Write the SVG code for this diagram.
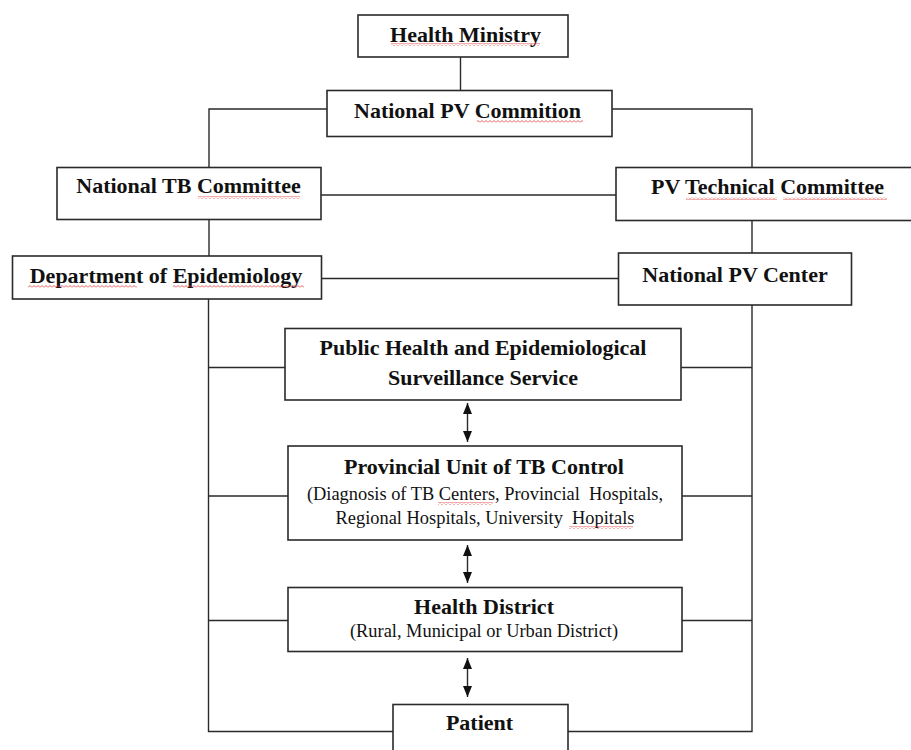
<svg xmlns="http://www.w3.org/2000/svg" width="911" height="750" viewBox="0 0 911 750">
<style>
  .box { fill: #ffffff; stroke: #2a2a2a; stroke-width: 1.6; }
  .ln { fill: none; stroke: #2a2a2a; stroke-width: 1.4; }
  .t { font-family: "Liberation Serif", "Times New Roman", serif; font-weight: bold; font-size: 22px; fill: #111111; text-anchor: middle; }
  .s { font-family: "Liberation Serif", "Times New Roman", serif; font-size: 18.4px; fill: #111111; text-anchor: middle; }
  .sq { fill: url(#squig); }
</style>
<defs>
  <pattern id="squig" patternUnits="userSpaceOnUse" width="4" height="3">
    <path d="M0 2.5 L2 0.5 L4 2.5" fill="none" stroke="#e03030" stroke-width="0.8"/>
  </pattern>
  <marker id="ah" viewBox="0 0 11 9" refX="11" refY="4.5" markerWidth="11" markerHeight="9" markerUnits="userSpaceOnUse" orient="auto-start-reverse">
    <path d="M0 0 L11 4.5 L0 9 Z" fill="#111111"/>
  </marker>
</defs>

<g id="connectors">
  <line class="ln" x1="460.5" y1="57" x2="460.5" y2="90"/>
  <polyline class="ln" points="327,109 209,109 209,167"/>
  <polyline class="ln" points="612,109 752,109 752,167"/>
  <line class="ln" x1="321" y1="195" x2="616" y2="195"/>
  <line class="ln" x1="209" y1="219" x2="209" y2="256"/>
  <line class="ln" x1="752" y1="221" x2="752" y2="253"/>
  <line class="ln" x1="322" y1="278.5" x2="618" y2="278.5"/>
  <polyline class="ln" points="208.5,299 208.5,731.5 393,731.5"/>
  <polyline class="ln" points="752,305 752,731.5 568,731.5"/>
  <line class="ln" x1="208.5" y1="367.5" x2="285" y2="367.5"/>
  <line class="ln" x1="681" y1="367.5" x2="752" y2="367.5"/>
  <line class="ln" x1="208.5" y1="496" x2="288" y2="496"/>
  <line class="ln" x1="682" y1="496" x2="752" y2="496"/>
  <line class="ln" x1="208.5" y1="620.5" x2="288" y2="620.5"/>
  <line class="ln" x1="682" y1="620.5" x2="752" y2="620.5"/>
  <line class="ln" x1="467.5" y1="403" x2="467.5" y2="442" marker-start="url(#ah)" marker-end="url(#ah)"/>
  <line class="ln" x1="467.5" y1="545" x2="467.5" y2="583" marker-start="url(#ah)" marker-end="url(#ah)"/>
  <line class="ln" x1="467.5" y1="658" x2="467.5" y2="697" marker-start="url(#ah)" marker-end="url(#ah)"/>
</g>

<g id="health-ministry">
  <rect class="box" x="358" y="15" width="210" height="42"/>
  <text class="t" x="465.5" y="42">Health Ministry</text>
  <rect class="sq" x="391" y="43" width="149" height="3"/>
</g>

<g id="national-pv-commition">
  <rect class="box" x="327" y="90.5" width="285" height="46"/>
  <text class="t" x="467.5" y="118">National PV Commition</text>
  <rect class="sq" x="477" y="120" width="106" height="3"/>
</g>

<g id="national-tb-committee">
  <rect class="box" x="57" y="167.5" width="264" height="52"/>
  <text class="t" x="188.5" y="193">National TB Committee</text>
  <rect class="sq" x="198" y="196" width="102" height="3"/>
</g>

<g id="pv-technical-committee">
  <rect class="box" x="616" y="167.5" width="300" height="53"/>
  <text class="t" x="767.5" y="194">PV Technical Committee</text>
  <rect class="sq" x="686" y="197" width="91" height="3"/>
  <rect class="sq" x="783" y="197" width="104" height="3"/>
</g>

<g id="department-of-epidemiology">
  <rect class="box" x="12.5" y="256" width="309" height="43"/>
  <text class="t" x="166" y="282.5">Department of Epidemiology</text>
  <rect class="sq" x="28" y="285" width="109" height="3"/>
  <rect class="sq" x="173" y="285" width="131" height="3"/>
</g>

<g id="national-pv-center">
  <rect class="box" x="618.5" y="253" width="233" height="52"/>
  <text class="t" x="735" y="281.5">National PV Center</text>
</g>

<g id="public-health-service">
  <rect class="box" x="285" y="328.5" width="396" height="71.5"/>
  <text class="t" x="483" y="355">Public Health and Epidemiological</text>
  <text class="t" x="483" y="385">Surveillance Service</text>
</g>

<g id="provincial-unit">
  <rect class="box" x="288" y="446" width="394" height="94"/>
  <text class="t" x="484" y="473.5">Provincial Unit of TB Control</text>
  <text class="s" x="485" y="500" xml:space="preserve">(Diagnosis of TB Centers, Provincial  Hospitals,</text>
  <text class="s" x="485" y="523.5" xml:space="preserve">Regional Hospitals, University  Hopitals</text>
  <rect class="sq" x="438" y="502" width="55" height="3"/>
  <rect class="sq" x="569" y="526" width="64" height="3"/>
</g>

<g id="health-district">
  <rect class="box" x="288" y="587.5" width="394" height="64"/>
  <text class="t" x="484" y="613.5">Health District</text>
  <text class="s" x="484" y="637">(Rural, Municipal or Urban District)</text>
</g>

<g id="patient">
  <rect class="box" x="393" y="704.5" width="175" height="55"/>
  <text class="t" x="479.5" y="730">Patient</text>
</g>
</svg>
